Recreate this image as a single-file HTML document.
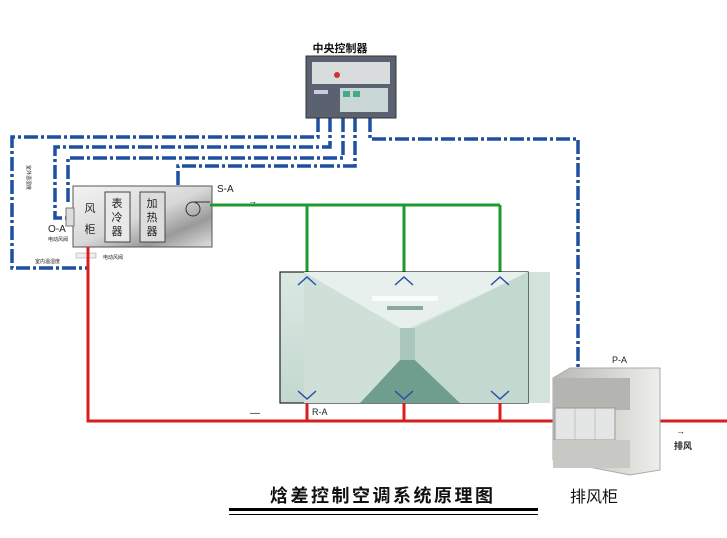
<!DOCTYPE html>
<html><head><meta charset="utf-8"><style>
html,body{margin:0;padding:0;background:#fff;}
svg{display:block;font-family:"Liberation Sans","Noto Sans CJK SC",sans-serif;}
</style></head><body>
<svg width="727" height="538" viewBox="0 0 727 538" xmlns="http://www.w3.org/2000/svg">
<defs>
<linearGradient id="ahu" x1="0" y1="0" x2="1" y2="1">
<stop offset="0" stop-color="#f4f4f4"/><stop offset="0.5" stop-color="#d8d8d8"/><stop offset="0.75" stop-color="#9a9a9a"/><stop offset="1" stop-color="#e0e0e0"/></linearGradient>
<linearGradient id="room" x1="0" y1="0" x2="0" y2="1">
<stop offset="0" stop-color="#dbe8e3"/><stop offset="1" stop-color="#c2d8cf"/></linearGradient>
<linearGradient id="ex" x1="0" y1="0" x2="1" y2="0">
<stop offset="0" stop-color="#b8b8b4"/><stop offset="0.6" stop-color="#d8d8d4"/><stop offset="1" stop-color="#eeeeec"/></linearGradient>
</defs>

<g fill="none" stroke="#1f4fa0" stroke-width="3.5" stroke-dasharray="14,3,3,3">
<polyline points="318,118 318,137 12,137 12,268 88,268"/>
<polyline points="330,118 330,147 55,147 55,218 68,218"/>
<polyline points="343,118 343,158 68,158 68,205"/>
<polyline points="355,118 355,166 178,166 178,186"/>
<polyline points="370,118 370,139 578,139 578,368"/>
</g>

<text x="340" y="52" font-size="11" font-weight="bold" text-anchor="middle" fill="#111">中央控制器</text>
<rect x="306" y="56" width="90" height="62" fill="#5a6272" stroke="#333"/>
<rect x="312" y="62" width="78" height="22" fill="#d8dcdc"/>
<rect x="340" y="88" width="48" height="24" fill="#c9d6d6"/>
<rect x="343" y="91" width="7" height="6" fill="#4a8"/><rect x="353" y="91" width="7" height="6" fill="#4a8"/>
<circle cx="337" cy="75" r="3" fill="#c33"/>
<rect x="314" y="90" width="14" height="4" fill="#ccd"/>

<rect x="73" y="186" width="139" height="61" fill="url(#ahu)" stroke="#555"/>
<rect x="105" y="192" width="25" height="50" fill="#e8e8e8" stroke="#444"/>
<rect x="140" y="192" width="25" height="50" fill="#dcdcdc" stroke="#444"/>
<rect x="66" y="208" width="8" height="18" fill="#ddd" stroke="#777"/>
<g font-size="11" fill="#222" text-anchor="middle">
<text x="90" y="212">风</text><text x="90" y="233">柜</text>
<text x="117" y="207">表</text><text x="117" y="221">冷</text><text x="117" y="235">器</text>
<text x="152" y="207">加</text><text x="152" y="221">热</text><text x="152" y="235">器</text>
</g>
<circle cx="193" cy="209" r="7" fill="none" stroke="#333"/>
<line x1="193" y1="202" x2="210" y2="202" stroke="#333"/>
<text x="217" y="192" font-size="10" fill="#222">S-A</text>
<text x="48" y="232" font-size="10" fill="#222">O-A</text>
<text x="48" y="241" font-size="5" fill="#222">电动风阀</text>
<text x="103" y="259" font-size="5" fill="#222">电动风阀</text>
<text x="35" y="263" font-size="5" fill="#222">室内温湿度</text>
<rect x="76" y="253" width="20" height="5" fill="#eee" stroke="#999" stroke-width="0.5"/>
<text x="47" y="185" font-size="5" fill="#222" transform="rotate(90 47 165)">室外温湿度</text>

<g stroke="#1f9a2f" stroke-width="3" fill="none">
<polyline points="210,205 500,205"/>
<line x1="307" y1="205" x2="307" y2="274"/>
<line x1="404" y1="205" x2="404" y2="274"/>
<line x1="500" y1="205" x2="500" y2="274"/>
</g>
<text x="248" y="204" font-size="9" fill="#222">→</text>

<rect x="515" y="272" width="35" height="131" fill="#d3e3dc"/>
<rect x="280" y="272" width="248" height="131" fill="url(#room)" stroke="#222" stroke-width="1.2"/>
<polygon points="304,272 400,328 410,328 528,272" fill="#e8f0ed"/>
<polygon points="360,403 400,360 415,360 460,403" fill="#6f9e8f"/>
<polygon points="304,272 304,403 360,403 400,360 400,328" fill="#cfe0d9"/>
<polygon points="528,272 528,403 460,403 415,360 415,328" fill="#c3d8cf"/>
<rect x="400" y="328" width="15" height="32" fill="#a9c6bc"/>
<rect x="372" y="296" width="66" height="5" fill="#fafcfb"/>
<rect x="387" y="306" width="36" height="4" fill="#8aa8a0"/>
<g stroke="#2a4fa6" stroke-width="1.5" fill="none">
<polyline points="298,285 307,277 316,285"/>
<polyline points="395,285 404,277 413,285"/>
<polyline points="491,285 500,277 509,285"/>
<polyline points="298,391 307,399 316,391"/>
<polyline points="395,391 404,399 413,391"/>
<polyline points="491,391 500,399 509,391"/>
</g>

<g stroke="#d81e1e" stroke-width="3" fill="none">
<polyline points="88,247 88,421 727,421"/>
<line x1="307" y1="403" x2="307" y2="421"/>
<line x1="404" y1="403" x2="404" y2="421"/>
<line x1="500" y1="403" x2="500" y2="421"/>
</g>
<text x="250" y="416" font-size="10" fill="#222">—</text>
<text x="312" y="415" font-size="9" fill="#222">R-A</text>

<polygon points="553,378 570,368 660,368 660,470 630,475 553,460" fill="url(#ex)" stroke="#aaa"/>
<rect x="553" y="378" width="77" height="32" fill="#b4b4b0"/>
<rect x="555" y="408" width="60" height="32" fill="#e4e6e6" stroke="#999"/>
<g stroke="#aaa" stroke-width="0.6">
<line x1="575" y1="408" x2="575" y2="440"/><line x1="595" y1="408" x2="595" y2="440"/>
</g>
<rect x="553" y="440" width="77" height="28" fill="#c8c8c4"/>
<text x="612" y="363" font-size="9" fill="#222">P-A</text>
<text x="676" y="434" font-size="9" fill="#222">→</text>
<text x="674" y="449" font-size="9" font-weight="bold" fill="#222">排风</text>
<text x="570" y="502" font-size="16" fill="#111">排风柜</text>

<text x="270" y="502" font-size="18" font-weight="bold" letter-spacing="2.5" fill="#111">焓差控制空调系统原理图</text>
<rect x="229" y="508" width="309" height="3" fill="#000"/>
<rect x="229" y="514" width="309" height="1" fill="#000"/>
</svg>
</body></html>
